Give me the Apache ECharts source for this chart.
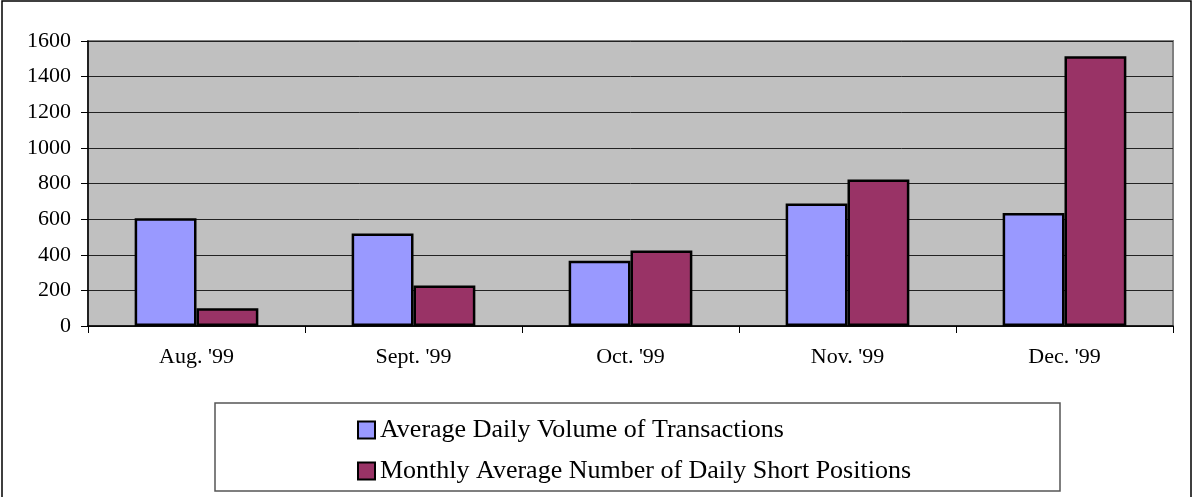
<!DOCTYPE html>
<html>
<head>
<meta charset="utf-8">
<script src="https://cdn.jsdelivr.net/npm/echarts@6/dist/echarts.min.js"></script>
<style>
html,body{margin:0;padding:0;background:#fff;}
#chart{width:1194px;height:497px;}
</style>
</head>
<body>
<div id="chart"></div>
<script>
const categories = ["Aug. '99", "Sept. '99", "Oct. '99", "Nov. '99", "Dec. '99"];
const volumeName = "Average Daily Volume of Transactions";
const shortName = "Monthly Average Number of Daily Short Positions";
const volumeValues = [605, 520, 367, 688, 634];
const shortValues = [100, 227, 424, 823, 1514];

const font = "'Liberation Serif', 'Times New Roman', serif";
const chart = echarts.init(document.getElementById('chart'));
chart.setOption({
  animation: false,
  backgroundColor: '#ffffff',
  textStyle: { fontFamily: font },
  graphic: [
    { type: 'rect', shape: { x: 2, y: 1, width: 1189, height: 502 },
      style: { fill: 'none', stroke: '#000', lineWidth: 1.5 }, silent: true, z: 0 },
    { type: 'rect', shape: { x: 215, y: 403, width: 845, height: 88 },
      style: { fill: '#fff', stroke: '#555', lineWidth: 1.5 }, silent: true, z: 0 }
  ],
  grid: {
    left: 88, right: 21, top: 41, bottom: 171,
    show: true, backgroundColor: '#c0c0c0', borderColor: '#808080', borderWidth: 2
  },
  legend: {
    orient: 'vertical',
    left: 352, top: 412,
    itemWidth: 17, itemHeight: 17, itemGap: 15,
    icon: 'rect',
    itemStyle: { borderColor: '#000', borderWidth: 2 },
    textStyle: { fontFamily: font, fontSize: 26, color: '#000', lineHeight: 26 },
    data: [volumeName, shortName]
  },
  xAxis: {
    type: 'category',
    data: categories,
    axisLine: { show: true, lineStyle: { color: '#000', width: 1.5 } },
    axisTick: { show: true, length: 7, lineStyle: { color: '#000' } },
    axisLabel: { fontFamily: font, fontSize: 22, color: '#000', margin: 20 }
  },
  yAxis: {
    type: 'value',
    min: 0, max: 1600, interval: 200,
    axisLine: { show: true, lineStyle: { color: '#000', width: 1.5 } },
    axisTick: { show: true, length: 7, lineStyle: { color: '#000' } },
    axisLabel: { fontFamily: font, fontSize: 22, color: '#000', margin: 17,
      formatter: function (v) { return String(v); } },
    splitLine: { show: true, lineStyle: { color: '#222', width: 1 } }
  },
  series: [
    {
      name: volumeName, type: 'bar', data: volumeValues,
      barGap: '0%', barCategoryGap: '43%',
      itemStyle: { color: '#9999ff', borderColor: '#000', borderWidth: 2.5 }
    },
    {
      name: shortName, type: 'bar', data: shortValues,
      barGap: '0%', barCategoryGap: '43%',
      itemStyle: { color: '#993366', borderColor: '#000', borderWidth: 2.5 }
    }
  ]
});
</script>
</body>
</html>
